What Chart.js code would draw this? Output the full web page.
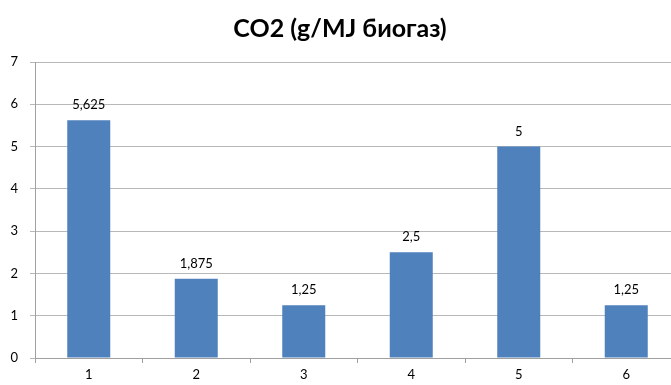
<!DOCTYPE html>
<html>
<head>
<meta charset="utf-8">
<script src="https://cdn.jsdelivr.net/npm/chart.js@4"></script>
<style>
  html, body { margin: 0; padding: 0; background: #fff; overflow: hidden; }
  #wrap { width: 671px; height: 385px; overflow: hidden; }
</style>
</head>
<body>
<div id="wrap"><canvas id="c" width="680" height="385"></canvas></div>
<script>
const titleText = 'CO2 (g/MJ биогаз)';
const categories = ['1', '2', '3', '4', '5', '6'];
const values = [5.625, 1.875, 1.25, 2.5, 5, 1.25];
const yTicks = [0, 1, 2, 3, 4, 5, 6, 7];

const FONT = 'Lato, "Liberation Sans", Arial, sans-serif';

// Writes each bar's value above it, with a comma as decimal mark
const valueLabels = {
  id: 'valueLabels',
  afterDatasetsDraw(chart) {
    const ctx = chart.ctx;
    const meta = chart.getDatasetMeta(0);
    ctx.save();
    ctx.font = '13px ' + FONT;
    ctx.fillStyle = '#000';
    ctx.textAlign = 'center';
    ctx.textBaseline = 'alphabetic';
    meta.data.forEach((bar, i) => {
      const txt = String(values[i]).replace('.', ',');
      ctx.fillText(txt, bar.x, bar.y - 11);
    });
    ctx.restore();
  }
};

new Chart(document.getElementById('c'), {
  type: 'bar',
  data: {
    labels: categories,
    datasets: [{
      data: values,
      backgroundColor: '#4F81BD',
      borderWidth: 0,
      categoryPercentage: 0.4,
      barPercentage: 1.0
    }]
  },
  options: {
    responsive: false,
    animation: false,
    layout: { padding: { left: 0, right: 0, top: 0, bottom: 0 } },
    plugins: {
      legend: { display: false },
      tooltip: { enabled: false },
      title: {
        display: true,
        text: titleText,
        color: '#000',
        font: { family: FONT, size: 25, weight: 'bold' },
        padding: { top: 14, bottom: 18 }
      }
    },
    scales: {
      x: {
        offset: true,
        grid: {
          offset: true,
          drawOnChartArea: false,
          color: '#a0a0a0',
          tickLength: 5
        },
        border: { color: '#a0a0a0' },
        ticks: { color: '#000', font: { family: FONT, size: 13 }, padding: 4 },
        afterFit(scale) { scale.height = 27; }
      },
      y: {
        min: 0,
        max: 7,
        afterBuildTicks(scale) { scale.ticks = yTicks.map(v => ({ value: v })); },
        grid: { color: '#b8b8b8', tickLength: 5 },
        border: { color: '#a0a0a0' },
        ticks: { color: '#000', font: { family: FONT, size: 13 }, padding: 12 },
        afterFit(scale) { scale.width = 35; }
      }
    }
  },
  plugins: [valueLabels]
});
</script>
</body>
</html>
